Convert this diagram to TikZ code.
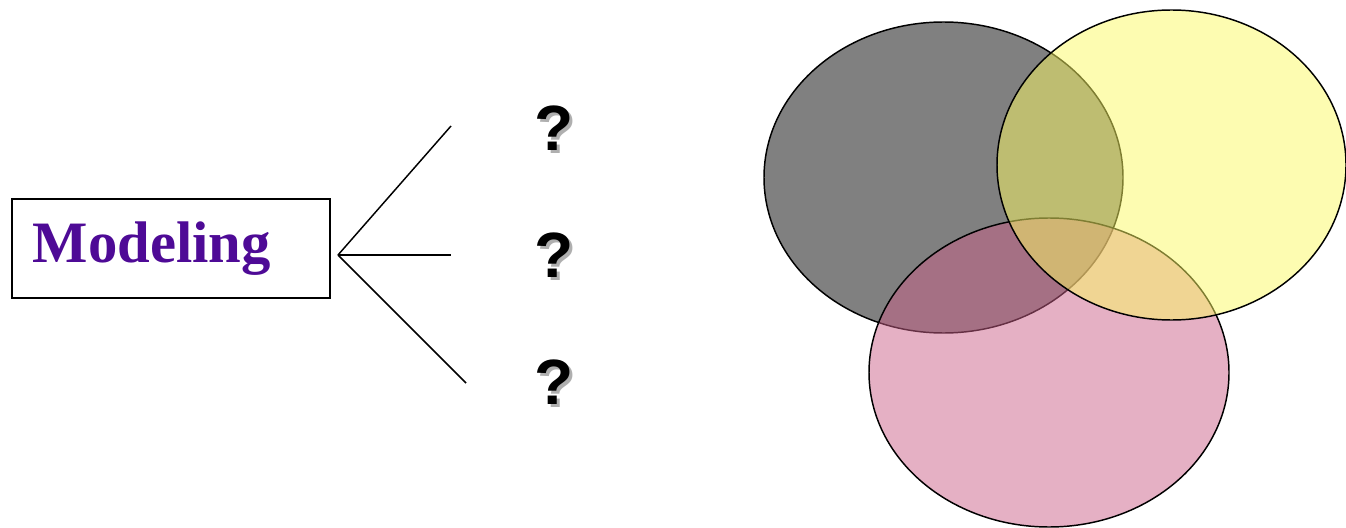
\documentclass[tikz,border=0pt]{standalone}
\usepackage{fontspec}
\usepackage{xcolor}
\usepackage{tikz}
\usetikzlibrary{positioning,calc}
\setmainfont{Liberation Serif}
\newfontfamily\qfont{Liberation Sans}
\definecolor{modelPurple}{RGB}{78,10,150}
\definecolor{vennGray}{RGB}{128,128,128}
\definecolor{vennPink}{RGB}{203,97,137}
\definecolor{vennYellow}{RGB}{252,250,100}
\definecolor{qShadow}{RGB}{175,175,175}

\begin{document}
\begin{tikzpicture}[
  x=0.75pt,y=-0.75pt,
  modelbox/.style={draw,line width=1.3pt,anchor=north west,inner xsep=15.75pt,inner ysep=0pt,
    text width=207pt,align=left,text height=48pt,text depth=26.25pt,
    font=\fontsize{44}{44}\selectfont\bfseries,text=modelPurple},
  qmark/.style={anchor=base,inner sep=0pt,font=\qfont\fontsize{48}{48}\selectfont\bfseries},
  branch/.style={line width=1.1pt},
  venn/.style={draw,line width=1.1pt,fill opacity=0.5}
]
  \useasboundingbox (0,0) rectangle (1346,528);

  \node[modelbox] (model) at (11,198) {Modeling};

  \coordinate (fork) at (338,255);
  \coordinate (b1) at (451,126);
  \coordinate (b2) at (451,255);
  \coordinate (b3) at (466,383);
  \draw[branch] (fork) -- (b1);
  \draw[branch] (fork) -- (b2);
  \draw[branch] (fork) -- (b3);

  \foreach \y/\n in {150/q1,277/q2,404/q3}{
    \node[qmark,text=qShadow] (\n s) at (557,\y+3) {?};
    \node[qmark] (\n) at (554,\y) {?};
  }

  % venn circles
  \draw[venn,fill=vennGray,fill opacity=1] (943.5,177.5) ellipse [x radius=179.5,y radius=155.5];
  \draw[venn,fill=vennPink] (1049,372.5) ellipse [x radius=180,y radius=154.5];
  \draw[venn,fill=vennYellow] (1171.5,165) ellipse [x radius=174.5,y radius=155];
\end{tikzpicture}
\end{document}
